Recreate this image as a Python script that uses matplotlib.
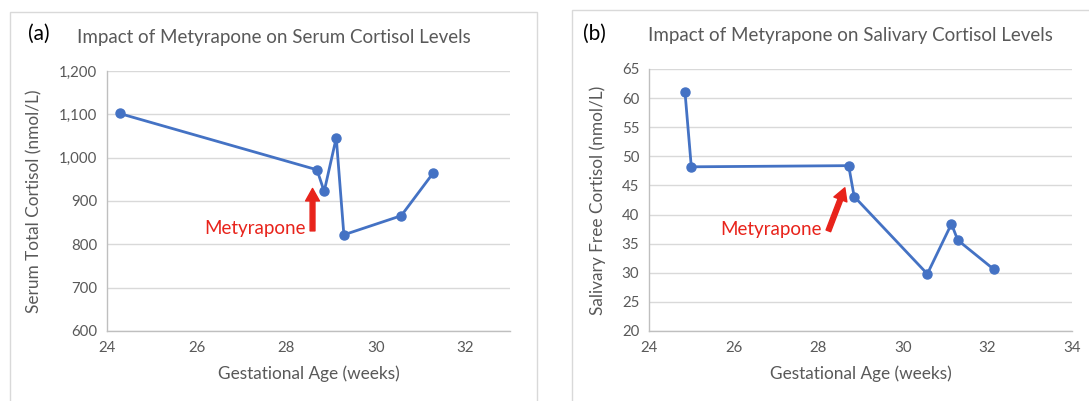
import matplotlib.pyplot as plt
from matplotlib.patches import Rectangle

# datos
edad_suero = [24.28, 28.69, 28.85, 29.12, 29.29, 30.57, 31.28]
cortisol_suero = [1102, 972, 922, 1046, 822, 866, 964]

edad_saliva = [24.85, 25.0, 28.72, 28.85, 30.58, 31.15, 31.30, 32.15]
cortisol_saliva = [61.1, 48.2, 48.4, 43.1, 29.8, 38.4, 35.6, 30.6]

ticks_x_a = [24, 26, 28, 30, 32]
ticks_y_a = [600, 700, 800, 900, 1000, 1100, 1200]
ticks_x_b = [24, 26, 28, 30, 32, 34]
ticks_y_b = [20, 25, 30, 35, 40, 45, 50, 55, 60, 65]

plt.rcParams['font.family'] = ['Lato', 'DejaVu Sans']

AZUL = '#4472C4'
GRIS = '#595959'
REJILLA = '#D9D9D9'
ROJO = '#E8231B'

W, H = 1089, 401
fig = plt.figure(figsize=(W / 100, H / 100), dpi=100)


def caja(x0, y0, x1, y1):
    # x, y en pixeles (y desde arriba)
    return [x0 / W, 1 - y1 / H, (x1 - x0) / W, (y1 - y0) / H]


# marcos de cada panel
fig.patches.append(Rectangle((10 / W, -0.01), (537 - 10) / W, 1 - 12 / H + 0.01,
                             transform=fig.transFigure, fill=False,
                             edgecolor=REJILLA, linewidth=1.0))
fig.patches.append(Rectangle((572 / W, -0.01), (1095 - 572) / W, 1 - 10 / H + 0.01,
                             transform=fig.transFigure, fill=False,
                             edgecolor=REJILLA, linewidth=1.0))


def estilo(ax, xt, yt, fmt):
    ax.set_xticks(xt)
    ax.set_yticks(yt)
    ax.set_yticklabels([fmt(v) for v in yt])
    ax.grid(axis='y', color=REJILLA, linewidth=1.0)
    ax.set_axisbelow(True)
    for s in ['top', 'right']:
        ax.spines[s].set_visible(False)
    for s in ['left', 'bottom']:
        ax.spines[s].set_color('#BFBFBF')
        ax.spines[s].set_linewidth(1.0)
    ax.tick_params(length=0, labelsize=10.8, labelcolor=GRIS, pad=7)


# panel (a)
ax1 = fig.add_axes(caja(107, 71, 510, 331))
ax1.plot(edad_suero, cortisol_suero, color=AZUL, linewidth=2.0,
         marker='o', markersize=6.5)
ax1.set_xlim(24, 33)
ax1.set_ylim(600, 1200)
estilo(ax1, ticks_x_a, ticks_y_a, lambda v: f'{v:,}')
ax1.set_xlabel('Gestational Age (weeks)', fontsize=12.4, color=GRIS, labelpad=8)
ax1.set_ylabel('Serum Total Cortisol (nmol/L)', fontsize=12.4, color=GRIS, labelpad=12)
ax1.annotate('', xy=(28.59, 929), xytext=(28.59, 831),
             arrowprops=dict(facecolor=ROJO, edgecolor=ROJO, width=3.5,
                             headwidth=10, headlength=9))
ax1.text(28.43, 837, 'Metyrapone', color=ROJO, fontsize=13.5,
         ha='right', va='center')
fig.text(39 / W, 1 - 34 / H, '(a)', fontsize=15, color='black', ha='center', va='center')
fig.text(274 / W, 1 - 38 / H, 'Impact of Metyrapone on Serum Cortisol Levels',
         fontsize=13.5, color=GRIS, ha='center', va='center')

# panel (b)
ax2 = fig.add_axes(caja(649, 69, 1072, 331))
ax2.plot(edad_saliva, cortisol_saliva, color=AZUL, linewidth=2.0,
         marker='o', markersize=6.5)
ax2.set_xlim(24, 34)
ax2.set_ylim(20, 65)
estilo(ax2, ticks_x_b, ticks_y_b, lambda v: f'{v}')
ax2.set_xlabel('Gestational Age (weeks)', fontsize=12.4, color=GRIS, labelpad=8)
ax2.set_ylabel('Salivary Free Cortisol (nmol/L)', fontsize=12.4, color=GRIS, labelpad=11)
ax2.annotate('', xy=(28.63, 44.6), xytext=(28.24, 37.2),
             arrowprops=dict(facecolor=ROJO, edgecolor=ROJO, width=3.5,
                             headwidth=10, headlength=9))
ax2.text(28.08, 37.5, 'Metyrapone', color=ROJO, fontsize=13.5,
         ha='right', va='center')
fig.text(594 / W, 1 - 34 / H, '(b)', fontsize=15, color='black', ha='center', va='center')
fig.text(850 / W, 1 - 36 / H, 'Impact of Metyrapone on Salivary Cortisol Levels',
         fontsize=13.5, color=GRIS, ha='center', va='center')

fig.savefig('out.png', dpi=100)
